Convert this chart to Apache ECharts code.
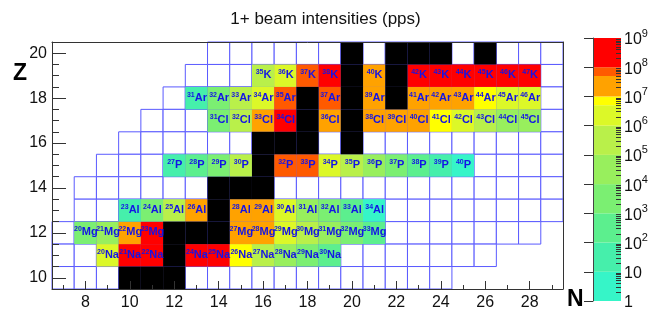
<!DOCTYPE html>
<html>
<head>
<meta charset="utf-8">
<script src="https://cdn.jsdelivr.net/npm/echarts@6/dist/echarts.min.js"></script>
<style>
  html, body { margin: 0; padding: 0; background: #fff; }
  #chart { width: 651px; height: 311px; }
</style>
</head>
<body>
<div id="chart"></div>
<script>
// element symbols by Z
var symbols = {10: 'Ne', 11: 'Na', 12: 'Mg', 13: 'Al', 14: 'Si', 15: 'P', 16: 'S', 17: 'Cl', 18: 'Ar', 19: 'K', 20: 'Ca'};

// beam intensities, log10(pps), per element: neutron numbers + values
var naN = [9, 10, 11, 13, 14, 15, 16, 17, 18, 19];
var naLog = [6.3, 8.4, 8.3, 8.5, 8.2, 6.85, 5.5, 4.5, 3.5, 2.5];
var mgN = [8, 9, 10, 11, 15, 16, 17, 18, 19, 20, 21];
var mgLog = [3.6, 4.6, 7.3, 8.3, 7.4, 7.2, 6.3, 5.5, 4.5, 3.5, 2.4];
var alN = [10, 11, 12, 13, 15, 16, 17, 18, 19, 20, 21];
var alLog = [1.5, 3.4, 5.5, 7.3, 7.4, 7.2, 6.1, 4.5, 3.5, 2.5, 0.7];
var pN = [12, 13, 14, 15, 17, 18, 19, 20, 21, 22, 23, 24, 25];
var pLog = [1.5, 2.5, 3.7, 5.6, 7.85, 7.85, 6.1, 5.4, 4.5, 3.5, 2.5, 1.5, 0.6];
var clN = [14, 15, 16, 17, 19, 21, 22, 23, 24, 25, 26, 27, 28];
var clLog = [3.5, 5.8, 7.3, 8.3, 7.3, 7.4, 7.3, 7.2, 6.85, 6.3, 5.5, 4.6, 4.2];
var arN = [13, 14, 15, 16, 17, 19, 21, 23, 24, 25, 26, 27, 28];
var arLog = [1.5, 3.5, 5.1, 6.3, 7.85, 7.9, 7.4, 7.4, 7.3, 7.1, 6.8, 6.4, 6.2];
var kN = [16, 17, 18, 19, 21, 23, 24, 25, 26, 27, 28];
var kLog = [5.7, 6.4, 7.8, 8.4, 7.4, 8.6, 8.5, 8.4, 8.3, 8.2, 8.1];

// stable nuclei (black)
var stableZ = [10, 10, 10, 11, 12, 12, 12, 13, 14, 14, 14, 15, 16, 16, 16, 16, 17, 17, 18, 18, 18, 19, 19, 20, 20, 20, 20, 20];
var stableN = [10, 11, 12, 12, 12, 13, 14, 14, 14, 15, 16, 16, 16, 17, 18, 20, 18, 20, 18, 20, 22, 20, 22, 20, 22, 23, 24, 26];

// known nuclei grid (blue boxes), row by row
var boxZ = [20, 19, 18, 17, 16, 15, 14, 13, 12, 11, 10];
var boxNmin = [14, 13, 12, 11, 10, 9, 8, 8, 7, 7, 7];
var boxNmax = [29, 29, 29, 29, 29, 29, 29, 29, 28, 26, 24];

// palette (log10 band edges) and colours
var bandEdges = [0, 1, 2, 3, 4, 5, 6, 6.7, 7, 7.7, 8, 9];
var bandColors = ['#36f5c8', '#46efab', '#5cef8e', '#7bef72', '#98ef5d', '#b9f04a', '#dcf828', '#ffff00', '#ffa200', '#ff5a00', '#ff0000'];

// tick labels
var xLabels = [8, 10, 12, 14, 16, 18, 20, 22, 24, 26, 28];
var yLabels = [10, 12, 14, 16, 18, 20];
var cbarExp = [0, 1, 2, 3, 4, 5, 6, 7, 8, 9];

var cells = [];
function addRow(z, ns, vals) {
  for (var i = 0; i < ns.length; i++) cells.push([ns[i], z, vals[i]]);
}
addRow(11, naN, naLog);
addRow(12, mgN, mgLog);
addRow(13, alN, alLog);
addRow(15, pN, pLog);
addRow(17, clN, clLog);
addRow(18, arN, arLog);
addRow(19, kN, kLog);

var stable = stableZ.map(function (z, i) { return [stableN[i], z]; });

var boxes = [];
boxZ.forEach(function (z, i) {
  for (var n = boxNmin[i]; n <= boxNmax[i]; n++) boxes.push([n, z]);
});

var bands = [];
for (var b = 0; b < bandColors.length; b++) {
  bands.push([bandEdges[b], bandEdges[b + 1], (bandEdges[b] + bandEdges[b + 1]) / 2]);
}
var pieces = bandColors.map(function (c, i) {
  return {gte: bandEdges[i], lt: bandEdges[i + 1], color: c};
});

var xMinor = [], yMinor = [], cbMinor = [];
for (var v = 7; v <= 29; v++) xMinor.push(v);
for (var w = 9.5; w <= 20.5; w += 0.5) yMinor.push(w);
for (var d = 0; d < 9; d++) for (var k = 2; k <= 9; k++) cbMinor.push(d + Math.log10(k));

function cellRect(api, fill, stroke) {
  var n = api.value(0), z = api.value(1);
  var p0 = api.coord([n - 0.5, z + 0.5]);
  var p1 = api.coord([n + 0.5, z - 0.5]);
  return {
    type: 'rect',
    shape: {x: p0[0], y: p0[1], width: p1[0] - p0[0], height: p1[1] - p0[1]},
    style: stroke ? {fill: fill, stroke: stroke, lineWidth: 1} : {fill: fill}
  };
}

var font = '"Liberation Sans", Arial, sans-serif';
var chart = echarts.init(document.getElementById('chart'));
var option = {
  animation: false,
  title: {
    text: '1+ beam intensities (pps)',
    left: 'center', top: 6,
    textStyle: {fontFamily: font, fontSize: 17, fontWeight: 'normal', color: '#111'}
  },
  grid: [
    {left: 52, top: 42, width: 511, height: 247},
    {left: 593, top: 38, width: 28, height: 267}
  ],
  visualMap: {
    type: 'piecewise', show: false, dimension: 2, seriesIndex: [1, 4],
    pieces: pieces
  },
  xAxis: [
    {gridIndex: 0, type: 'value', min: 6.5, max: 29.5, position: 'bottom', z: 10,
      axisLine: {lineStyle: {color: '#333'}},
      axisTick: {inside: true, length: 4, customValues: xMinor, lineStyle: {color: '#333'}},
      axisLabel: {customValues: xLabels, margin: 6, fontFamily: font, fontSize: 16, color: '#111'},
      splitLine: {show: false}},
    {gridIndex: 0, type: 'value', min: 6.5, max: 29.5, position: 'bottom', z: 10,
      axisLine: {show: false},
      axisTick: {inside: true, length: 8, customValues: xLabels, lineStyle: {color: '#333'}},
      axisLabel: {show: false}, splitLine: {show: false}},
    {gridIndex: 0, type: 'value', min: 6.5, max: 29.5, position: 'top', z: 10,
      axisLine: {lineStyle: {color: '#333'}},
      axisTick: {show: false}, axisLabel: {show: false}, splitLine: {show: false}},
    {gridIndex: 1, type: 'value', min: 0, max: 1, show: false}
  ],
  yAxis: [
    {gridIndex: 0, type: 'value', min: 9.5, max: 20.5, position: 'left', z: 10,
      axisLine: {lineStyle: {color: '#333'}},
      axisTick: {inside: true, length: 14, customValues: yLabels, lineStyle: {color: '#333'}},
      axisLabel: {customValues: yLabels, margin: 5, fontFamily: font, fontSize: 16, color: '#111'},
      splitLine: {show: false}},
    {gridIndex: 0, type: 'value', min: 9.5, max: 20.5, position: 'left', z: 10,
      axisLine: {show: false},
      axisTick: {inside: true, length: 7, customValues: yMinor, lineStyle: {color: '#333'}},
      axisLabel: {show: false}, splitLine: {show: false}},
    {gridIndex: 0, type: 'value', min: 9.5, max: 20.5, position: 'right', z: 10,
      axisLine: {lineStyle: {color: '#333'}},
      axisTick: {show: false}, axisLabel: {show: false}, splitLine: {show: false}},
    {gridIndex: 1, type: 'value', min: 0, max: 9, position: 'right', z: 10,
      axisLine: {lineStyle: {color: '#444'}},
      axisTick: {inside: true, length: 9, customValues: cbarExp, lineStyle: {color: '#333'}},
      axisLabel: {
        customValues: cbarExp, margin: 3, fontFamily: font, fontSize: 16, color: '#111',
        formatter: function (v) {
          if (v === 0) return '{b|1}';
          if (v === 1) return '{b|10}';
          return '{b|10}{p|' + v + '}';
        },
        rich: {
          b: {fontFamily: font, fontSize: 16, color: '#111', lineHeight: 20, verticalAlign: 'bottom'},
          p: {fontFamily: font, fontSize: 11, color: '#111', lineHeight: 20, verticalAlign: 'top'}
        }
      },
      splitLine: {show: false}},
    {gridIndex: 1, type: 'value', min: 0, max: 9, position: 'right', z: 10,
      axisLine: {show: false},
      axisTick: {inside: true, length: 5, customValues: cbMinor, lineStyle: {color: '#333'}},
      axisLabel: {show: false}, splitLine: {show: false}}
  ],
  graphic: [
    {type: 'text', left: 13, top: 62, style: {text: 'Z', font: 'bold 23px ' + font, fill: '#000'}},
    {type: 'text', left: 567, top: 288, style: {text: 'N', font: 'bold 23px ' + font, fill: '#000'}}
  ],
  series: [
    {type: 'custom', name: 'boxes', xAxisIndex: 0, yAxisIndex: 0, z: 1, data: boxes,
      renderItem: function (params, api) { return cellRect(api, '#fff', '#5a5aff'); }},
    {type: 'custom', name: 'beams', xAxisIndex: 0, yAxisIndex: 0, z: 2, data: cells,
      renderItem: function (params, api) { return cellRect(api, api.visual('color')); }},
    {type: 'custom', name: 'stable', xAxisIndex: 0, yAxisIndex: 0, z: 2, data: stable,
      renderItem: function (params, api) { return cellRect(api, '#000'); }},
    {type: 'custom', name: 'labels', xAxisIndex: 0, yAxisIndex: 0, z: 3, data: cells,
      renderItem: function (params, api) {
        var n = api.value(0), z = api.value(1);
        var p = api.coord([n, z]);
        return {
          type: 'text',
          style: {
            x: p[0] + 0.5, y: p[1] - 1,
            text: '{s|' + (n + z) + '}{e|' + symbols[z] + '}',
            align: 'center', verticalAlign: 'middle',
            rich: {
              s: {fontFamily: font, fontWeight: 'bold', fontSize: 7, fill: '#1414e6', lineHeight: 12, verticalAlign: 'top'},
              e: {fontFamily: font, fontWeight: 'bold', fontSize: 11, fill: '#1414e6', lineHeight: 12, verticalAlign: 'bottom'}
            }
          }
        };
      }},
    {type: 'custom', name: 'palette', xAxisIndex: 3, yAxisIndex: 3, z: 2, data: bands,
      renderItem: function (params, api) {
        var p0 = api.coord([0, api.value(1)]);
        var p1 = api.coord([1, api.value(0)]);
        return {
          type: 'rect',
          shape: {x: p0[0], y: p0[1], width: p1[0] - p0[0], height: p1[1] - p0[1]},
          style: {fill: api.visual('color')}
        };
      }}
  ]
};
chart.setOption(option);
</script>
</body>
</html>
